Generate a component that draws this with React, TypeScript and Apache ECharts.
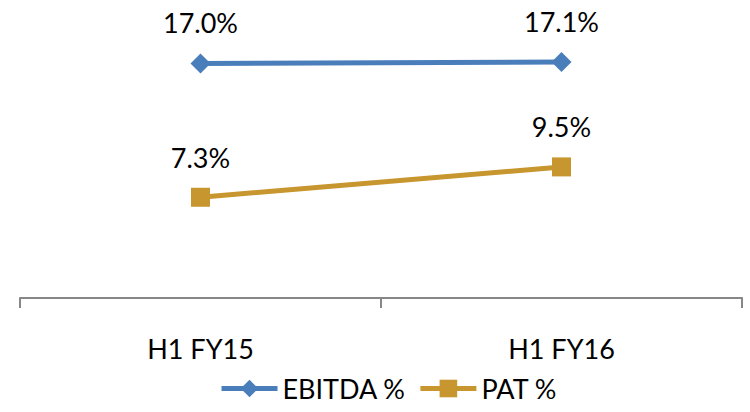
import React, { useEffect, useRef } from "react";
import * as echarts from "echarts";

const categories = ["H1 FY15", "H1 FY16"];
const ebitda = [17.0, 17.1];
const pat = [7.3, 9.5];

export default function App() {
  const ref = useRef<HTMLDivElement>(null);
  useEffect(() => {
    const chart = echarts.init(ref.current!, null, { renderer: "svg" });
    const font = "Lato";
    const fs = 27;
    chart.setOption({
      animation: false,
      textStyle: { fontFamily: font },
      grid: { left: 20, right: 8, top: 22, bottom: 114, containLabel: false },
      xAxis: {
        type: "category",
        data: categories,
        boundaryGap: true,
        axisLine: { lineStyle: { color: "#878787", width: 2 } },
        axisTick: { show: true, length: 10, lineStyle: { color: "#878787", width: 2 } },
        axisLabel: { margin: 37, fontSize: fs, color: "#000", fontFamily: font },
      },
      yAxis: {
        type: "value",
        min: 0,
        max: 20,
        show: false,
        splitLine: { show: false },
      },
      legend: {
        bottom: 5,
        left: 214,
        itemWidth: 56,
        itemHeight: 22,
        itemGap: 12,
        lineStyle: { width: 5 },
        textStyle: { fontSize: fs, color: "#000", fontFamily: font },
        data: ["EBITDA %", "PAT %"],
      },
      series: [
        {
          name: "EBITDA %",
          type: "line",
          data: ebitda,
          symbol: "diamond",
          symbolSize: 20,
          lineStyle: { color: "#4A7EBB", width: 5 },
          itemStyle: { color: "#4A7EBB" },
          label: {
            show: true,
            position: "top",
            distance: 17,
            fontSize: fs,
            color: "#000",
            fontFamily: font,
            formatter: (p: any) => p.value.toFixed(1) + "%",
          },
        },
        {
          name: "PAT %",
          type: "line",
          data: pat,
          symbol: "rect",
          symbolSize: 19,
          lineStyle: { color: "#C8962E", width: 5 },
          itemStyle: { color: "#C8962E" },
          label: {
            show: true,
            position: "top",
            distance: 17,
            fontSize: fs,
            color: "#000",
            fontFamily: font,
            formatter: (p: any) => p.value.toFixed(1) + "%",
          },
        },
      ],
    });
    return () => chart.dispose();
  }, []);
  return (
    <div
      ref={ref}
      style={{ position: "fixed", left: 0, top: 0, width: 750, height: 412, background: "#fff" }}
    />
  );
}
